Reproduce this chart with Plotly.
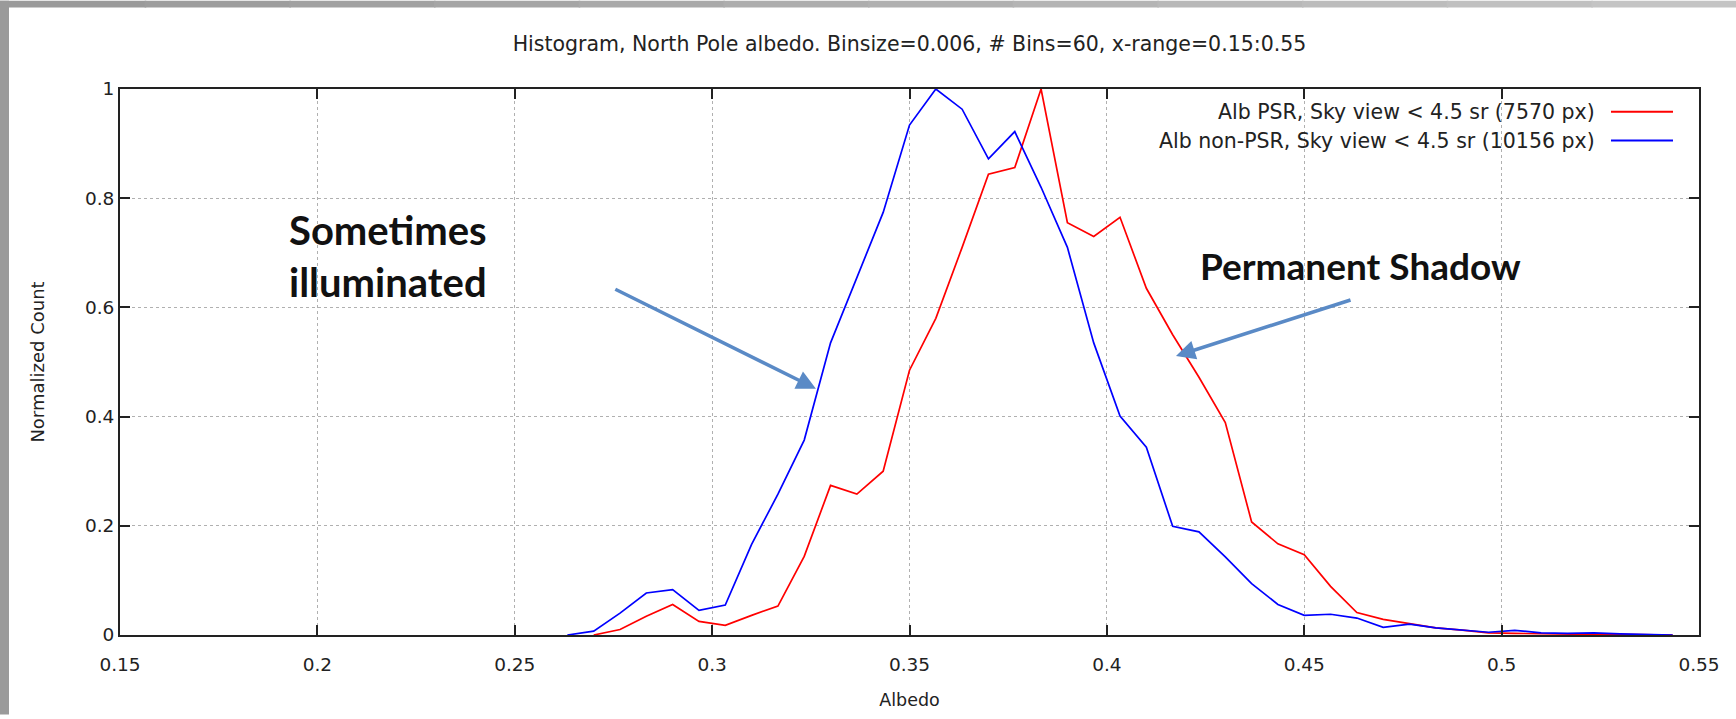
import plotly.graph_objects as go

# Bin centres (albedo)
albedo = [0.26333, 0.27, 0.27667, 0.28333, 0.29, 0.29667, 0.30333, 0.31, 0.31667,
          0.32333, 0.33, 0.33667, 0.34333, 0.35, 0.35667, 0.36333, 0.37, 0.37667,
          0.38333, 0.39, 0.39667, 0.40333, 0.41, 0.41667, 0.42333, 0.43, 0.43667,
          0.44333, 0.45, 0.45667, 0.46333, 0.47, 0.47667, 0.48333, 0.49, 0.49667,
          0.50333, 0.51, 0.51667, 0.52333, 0.53, 0.53667, 0.54333]

# non-PSR (blue), starts at 0.26333
nonpsr = [0.0, 0.007, 0.04, 0.077, 0.083, 0.045, 0.055, 0.166, 0.258, 0.357,
          0.535, 0.655, 0.774, 0.934, 1.0, 0.963, 0.872, 0.922, 0.82, 0.71,
          0.535, 0.401, 0.344, 0.199, 0.189, 0.143, 0.094, 0.056, 0.036, 0.038,
          0.031, 0.014, 0.02, 0.013, 0.009, 0.005, 0.0085, 0.004, 0.003, 0.004,
          0.002, 0.001, 0.0]

# PSR (red), starts at 0.27
psr = [0.0, 0.01, 0.0345, 0.056, 0.025, 0.0176, 0.036, 0.053, 0.144, 0.274,
       0.258, 0.30, 0.485, 0.58, 0.71, 0.844, 0.856, 1.0, 0.755, 0.73, 0.765,
       0.635, 0.55, 0.472, 0.389, 0.207, 0.167, 0.147, 0.089, 0.041, 0.0285,
       0.021, 0.013, 0.009, 0.004, 0.003, 0.002, 0.002, 0.001, 0.001, 0.0, 0.0]

x_ticks = [0.15, 0.2, 0.25, 0.3, 0.35, 0.4, 0.45, 0.5, 0.55]
x_labels = ["0.15", "0.2", "0.25", "0.3", "0.35", "0.4", "0.45", "0.5", "0.55"]
y_ticks = [0, 0.2, 0.4, 0.6, 0.8, 1]
y_labels = ["0", "0.2", "0.4", "0.6", "0.8", "1"]

names = ["Alb PSR, Sky view < 4.5 sr (7570 px)",
         "Alb non-PSR, Sky view < 4.5 sr (10156 px)"]
colors = ["#ff0000", "#0000ff"]
title = "Histogram, North Pole albedo. Binsize=0.006, # Bins=60, x-range=0.15:0.55"

W, H = 1736, 719
L, R, T, B = 120, 37, 89, 80
pw, ph = W - L - R, H - T - B

fig = go.Figure()
fig.add_trace(go.Scatter(x=albedo[1:], y=psr, mode="lines", name=names[0],
                         line=dict(color=colors[0], width=1.7), showlegend=False))
fig.add_trace(go.Scatter(x=albedo, y=nonpsr, mode="lines", name=names[1],
                         line=dict(color=colors[1], width=1.7), showlegend=False))

font_main = "DejaVu Sans, sans-serif"
axis_common = dict(showline=True, linecolor="#222222", linewidth=2, mirror="ticks",
                   ticks="inside", ticklen=10, tickcolor="#222222", tickwidth=1.5,
                   showgrid=True, gridcolor="#b0b0b0", griddash="dot", gridwidth=1,
                   zeroline=False, tickfont=dict(family=font_main, size=18.5, color="#222222"))

fig.update_layout(
    width=W, height=H,
    margin=dict(l=L, r=R, t=T, b=B, pad=0),
    paper_bgcolor="white", plot_bgcolor="white",
    title=dict(text=title, x=(L + pw / 2) / W, xanchor="center", y=1 - 44 / H,
               yanchor="middle", yref="container",
               font=dict(family=font_main, size=20.5, color="#222222")),
    xaxis=dict(range=[0.15, 0.55], tickvals=x_ticks, ticktext=x_labels,
               ticklabelstandoff=12,
               title=dict(text="Albedo", font=dict(family=font_main, size=17.5, color="#222222"),
                          standoff=20),
               **axis_common),
    yaxis=dict(range=[0, 1], tickvals=y_ticks, ticktext=y_labels,
               title=dict(text="Normalized Count", font=dict(family=font_main, size=18, color="#222222"),
                          standoff=36),
               **axis_common),
)

# Legend (gnuplot style: text right, sample line on the right)
legend_rows = [112, 141]
for i in range(2):
    yp = 1 - (legend_rows[i] - T) / ph
    fig.add_annotation(x=(1597 - L) / pw, y=yp, xref="paper", yref="paper",
                       text=names[i], showarrow=False, xanchor="right", yanchor="middle",
                       font=dict(family=font_main, size=20.5, color="#222222"))
    fig.add_shape(type="line", xref="paper", yref="paper",
                  x0=(1611 - L) / pw, x1=(1673 - L) / pw, y0=yp, y1=yp,
                  line=dict(color=colors[i], width=2))

# Gray frame around the slide
fig.add_shape(type="rect", xref="paper", yref="paper", x0=-L / pw, x1=(-L + 9) / pw,
              y0=-B / ph, y1=1 + T / ph, line=dict(width=0), fillcolor="#9a9a9a", layer="above")
nseg = 12
for s in range(nseg):
    g = int(0x9a + (0xc4 - 0x9a) * s / (nseg - 1))
    fig.add_shape(type="rect", xref="paper", yref="paper",
                  x0=(-L + W * s / nseg) / pw, x1=(-L + W * (s + 1) / nseg) / pw + 0.001,
                  y0=1 + (T - 7) / ph, y1=1 + T / ph, line=dict(width=0),
                  fillcolor="#%02x%02x%02x" % (g, g, g), layer="above")

# Annotations
fig.add_annotation(x=0.1923, y=0.6945, xref="x", yref="y", text="<b>Sometimes<br>illuminated</b>",
                   showarrow=False, xanchor="left", yanchor="middle", align="left",
                   font=dict(family="Lato, sans-serif", size=40, color="#111111"))
fig.add_annotation(x=0.4231, y=0.676, xref="x", yref="y", text="<b>Permanent Shadow</b>",
                   showarrow=False, xanchor="left", yanchor="middle", align="left",
                   font=dict(family="Lato, sans-serif", size=37, color="#111111"))

arrow_col = "#5a8ac6"
fig.add_annotation(x=0.3263, y=0.451, ax=0.2751, ay=0.6345, xref="x", yref="y",
                   axref="x", ayref="y", text="", showarrow=True, arrowhead=2,
                   arrowsize=1.1, arrowwidth=3.5, arrowcolor=arrow_col)
fig.add_annotation(x=0.4175, y=0.511, ax=0.4621, ay=0.6145, xref="x", yref="y",
                   axref="x", ayref="y", text="", showarrow=True, arrowhead=2,
                   arrowsize=1.1, arrowwidth=3.5, arrowcolor=arrow_col)

fig.write_html("out.html")
